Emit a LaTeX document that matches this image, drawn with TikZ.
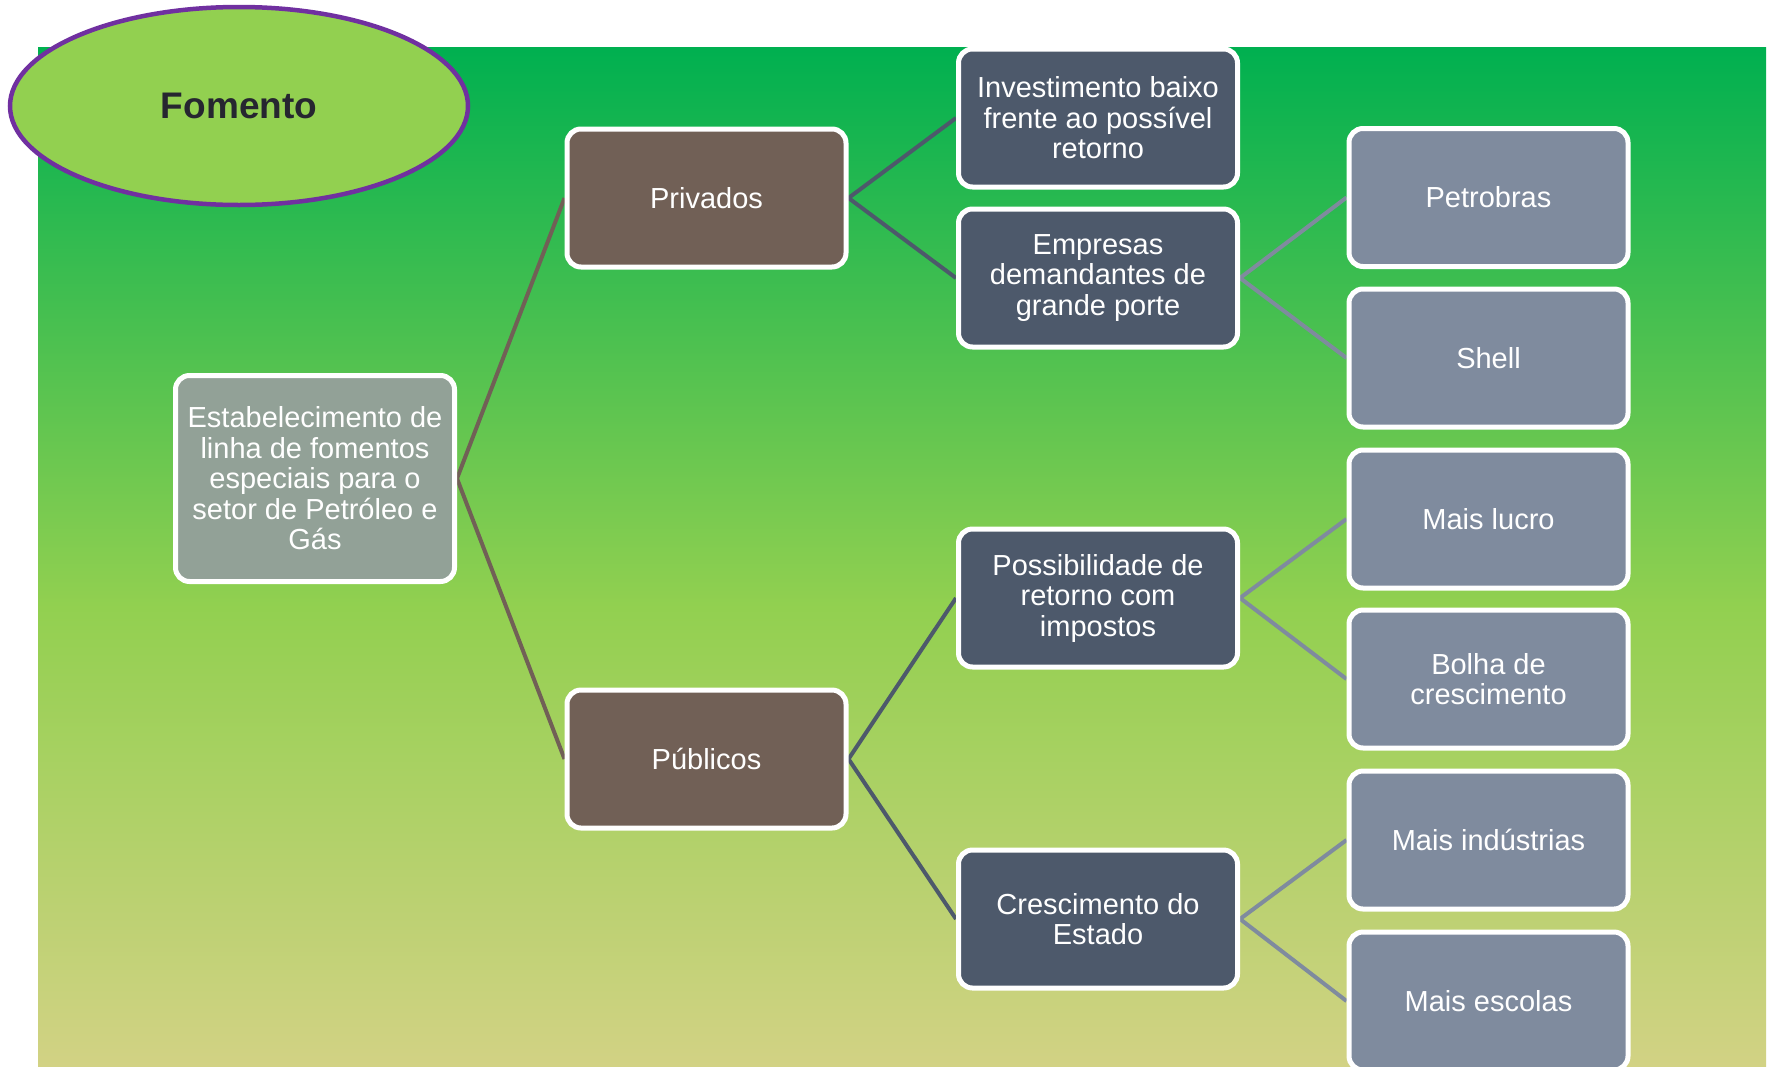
\documentclass[tikz,border=0pt]{standalone}
\usepackage{fontspec}
\setmainfont{Liberation Sans}
\usetikzlibrary{shapes.geometric}
\definecolor{bgtop}{RGB}{0,176,80}
\definecolor{bgmid}{RGB}{146,208,80}
\definecolor{bgbot}{RGB}{210,210,132}
\definecolor{rootfill}{RGB}{146,161,151}
\definecolor{brownfill}{RGB}{113,96,86}
\definecolor{darkfill}{RGB}{77,89,107}
\definecolor{lightfill}{RGB}{127,139,158}
\definecolor{ellfill}{RGB}{146,208,80}
\definecolor{ellline}{RGB}{112,48,160}
\definecolor{titletext}{RGB}{38,38,48}
\pgfdeclareverticalshading{bgshade}{100bp}{color(0bp)=(bgbot); color(25bp)=(bgbot); color(47.5bp)=(bgmid); color(75bp)=(bgtop); color(100bp)=(bgtop)}
\pgfdeclarelayer{bg}
\pgfdeclarelayer{conn}
\pgfsetlayers{bg,conn,main}
\begin{document}
\begin{tikzpicture}[x=1pt,y=-1pt,
  box/.style={rectangle, rounded corners=14pt, draw=white, line width=5pt,
    text=white, align=center, font=\fontsize{29}{30.5}\selectfont,
    minimum width=279pt, minimum height=138pt, inner sep=2pt},
  rootbox/.style={box, fill=rootfill, minimum height=206pt},
  l1box/.style={box, fill=brownfill},
  l2box/.style={box, fill=darkfill},
  l3box/.style={box, fill=lightfill},
  c1/.style={draw=brownfill, line width=4pt},
  c2/.style={draw=darkfill, line width=4pt},
  c3/.style={draw=lightfill, line width=4pt}]
\useasboundingbox (0,0) rectangle (1772,1066);
\begin{pgfonlayer}{bg}
  \fill[white] (0,0) rectangle (1772,1066);
  \shade[shading=bgshade] (38,47) rectangle (1766,1066);
\end{pgfonlayer}

\node[ellipse, fill=ellfill, draw=ellline, line width=4.5pt, minimum width=458pt, minimum height=198pt,
  text=titletext, font=\fontsize{37}{40}\selectfont\bfseries] (fomento) at (239,106) {Fomento};

\node[rootbox] (root) at (315,478.5) {Estabelecimento de\\linha de fomentos\\especiais para o\\setor de Petróleo e\\Gás};
\node[l1box] (priv) at (706.5,198) {Privados};
\node[l1box] (pub) at (706.5,759) {Públicos};
\node[l2box] (inv) at (1098,118) {Investimento baixo\\frente ao possível\\retorno};
\node[l2box] (emp) at (1098,278) {Empresas\\demandantes de\\grande porte};
\node[l2box] (pos) at (1098,598) {Possibilidade de\\retorno com\\impostos};
\node[l2box] (cre) at (1098,919) {Crescimento do\\Estado};
\node[l3box] (pet) at (1488.5,197.5) {Petrobras};
\node[l3box] (shell) at (1488.5,358) {Shell};
\node[l3box] (lucro) at (1488.5,519) {Mais lucro};
\node[l3box] (bolha) at (1488.5,679) {Bolha de\\crescimento};
\node[l3box] (ind) at (1488.5,840) {Mais indústrias};
\node[l3box] (esc) at (1488.5,1001) {Mais escolas};

\begin{pgfonlayer}{conn}
  \draw[c1] (root.east) -- (priv.west);
  \draw[c1] (root.east) -- (pub.west);
  \draw[c2] (priv.east) -- (inv.west);
  \draw[c2] (priv.east) -- (emp.west);
  \draw[c2] (pub.east) -- (pos.west);
  \draw[c2] (pub.east) -- (cre.west);
  \draw[c3] (emp.east) -- (pet.west);
  \draw[c3] (emp.east) -- (shell.west);
  \draw[c3] (pos.east) -- (lucro.west);
  \draw[c3] (pos.east) -- (bolha.west);
  \draw[c3] (cre.east) -- (ind.west);
  \draw[c3] (cre.east) -- (esc.west);
\end{pgfonlayer}
\end{tikzpicture}
\end{document}
